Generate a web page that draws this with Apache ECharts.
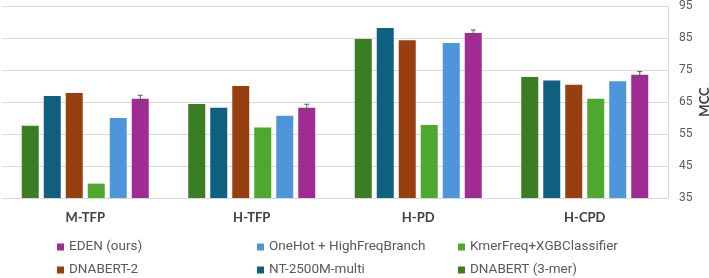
<!DOCTYPE html>
<html>
<head>
<meta charset="utf-8">
<script src="https://cdn.jsdelivr.net/npm/echarts@6/dist/echarts.min.js"></script>
<style>
  html, body { margin: 0; padding: 0; background: #fff; }
  #chart { width: 709px; height: 278px; }
</style>
</head>
<body>
<div id="chart"></div>
<script>
// data
const tasks = ['M-TFP', 'H-TFP', 'H-PD', 'H-CPD'];
const dnabert3mer = [57.6, 64.4, 84.7, 72.8];
const nt2500m = [66.9, 63.2, 88.1, 71.7];
const dnabert2 = [67.8, 70.0, 84.3, 70.4];
const kmerXgb = [39.5, 57.0, 57.8, 66.0];
const oneHotHfb = [60.0, 60.7, 83.4, 71.5];
const eden = [66.0, 63.2, 86.6, 73.5];
const edenErr = [1.1, 1.1, 0.9, 1.0];
const yTicks = [35, 45, 55, 65, 75, 85, 95];

const seriesDefs = [
  { name: 'DNABERT (3-mer)', data: dnabert3mer, color: '#3b7d23' },
  { name: 'NT-2500M-multi', data: nt2500m, color: '#0f5f81' },
  { name: 'DNABERT-2', data: dnabert2, color: '#983f10' },
  { name: 'KmerFreq+XGBClassifier', data: kmerXgb, color: '#4ea72e' },
  { name: 'OneHot + HighFreqBranch', data: oneHotHfb, color: '#4e95d9' },
  { name: 'EDEN (ours)', data: eden, color: '#a02b93' }
];

const barW = 17, gapPx = 5;

let chart = echarts.init(document.getElementById('chart'));

let series = seriesDefs.map(s => ({
  name: s.name,
  type: 'bar',
  data: s.data,
  barWidth: barW,
  barGap: (gapPx / barW * 100) + '%',
  itemStyle: { color: s.color },
  animation: false
}));

// error bars on EDEN (last bar of each group)
series.push({
  type: 'custom',
  name: 'err',
  data: eden.map((v, i) => [i, v - edenErr[i], v + edenErr[i]]),
  renderItem: function (params, api) {
    let off = (5 - 2.5) * (barW + gapPx);
    let lo = api.coord([api.value(0), api.value(1)]);
    let hi = api.coord([api.value(0), api.value(2)]);
    let x = lo[0] + off;
    let style = { stroke: '#595959', lineWidth: 1 };
    return {
      type: 'group',
      children: [
        { type: 'line', shape: { x1: x, y1: lo[1], x2: x, y2: hi[1] }, style: style },
        { type: 'line', shape: { x1: x - 2.5, y1: lo[1], x2: x + 2.5, y2: lo[1] }, style: style },
        { type: 'line', shape: { x1: x - 2.5, y1: hi[1], x2: x + 2.5, y2: hi[1] }, style: style }
      ]
    };
  },
  z: 10,
  animation: false
});

// one legend per entry so the 3x2 layout is exact
const legendText = { color: '#595959', fontSize: 13.5, fontFamily: 'Liberation Sans Narrow, Roboto, sans-serif' };
function legendItem(left, top, name) {
  return {
    left: left, top: top, padding: 0,
    icon: 'rect', itemWidth: 7, itemHeight: 7, itemGap: 0,
    textStyle: legendText, data: [name], selectedMode: false
  };
}

chart.setOption({
  animation: false,
  grid: { left: 2, right: 41, top: 6, bottom: 80, outerBoundsMode: 'none', containLabel: false },
  legend: [
    legendItem(57, 240, 'EDEN (ours)'),
    legendItem(57, 263, 'DNABERT-2'),
    legendItem(257, 240, 'OneHot + HighFreqBranch'),
    legendItem(257, 263, 'NT-2500M-multi'),
    legendItem(458, 240, 'KmerFreq+XGBClassifier'),
    legendItem(458, 263, 'DNABERT (3-mer)')
  ],
  xAxis: {
    type: 'category',
    data: tasks,
    axisTick: { show: false },
    axisLine: { lineStyle: { color: '#d9d9d9' } },
    axisLabel: { color: '#404040', fontWeight: 'bold', fontSize: 13, fontFamily: 'Lato, sans-serif', margin: 13 }
  },
  yAxis: {
    type: 'value',
    position: 'right',
    min: yTicks[0],
    max: yTicks[yTicks.length - 1],
    interval: 10,
    name: 'MCC',
    nameLocation: 'middle',
    nameRotate: 90,
    nameGap: 30,
    nameMoveOverlap: false,
    nameTextStyle: { color: '#404040', fontWeight: 'bold', fontSize: 13, fontFamily: 'Lato, sans-serif' },
    axisLine: { show: true, lineStyle: { color: '#d9d9d9' } },
    axisTick: { show: false },
    axisLabel: { color: '#595959', fontSize: 12, fontFamily: 'Roboto, sans-serif', margin: 11 },
    splitLine: { lineStyle: { color: '#d9d9d9' } }
  },
  series: series
});
</script>
</body>
</html>
